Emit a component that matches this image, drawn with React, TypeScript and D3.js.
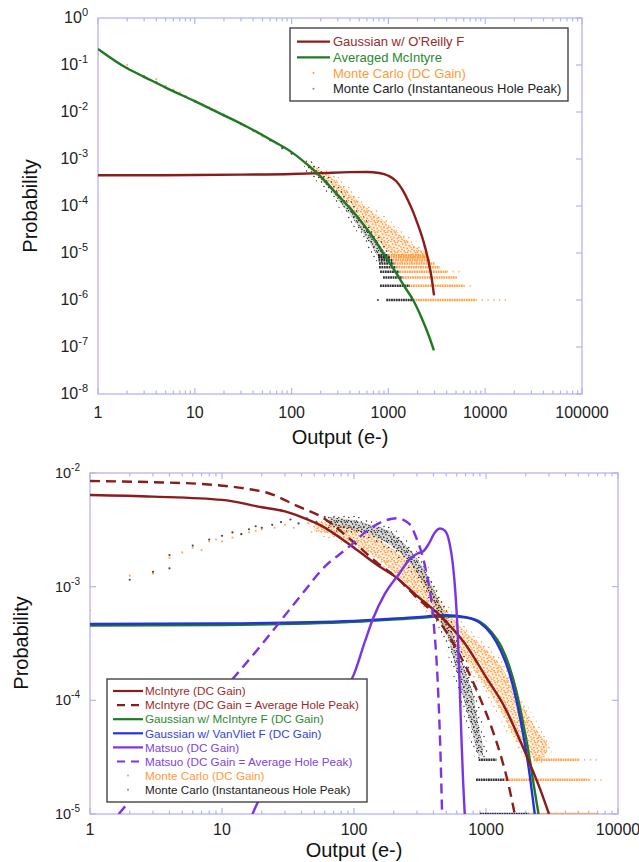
import React from "react";
import * as d3 from "d3";

type Pt = [number, number];
type Env = [number, number, number];
type Band = [number, number, number, number]; // level, x0, x1, dense(1)/sparse(0)

// ---------------- Top panel data ----------------
const topXTickValues = [1, 10, 100, 1000, 10000, 100000];
const topXTickLabels = ["1", "10", "100", "1000", "10000", "100000"];
const topYTickExponents = [0, -1, -2, -3, -4, -5, -6, -7, -8];
const topLegendLabels = [
  "Gaussian w/ O'Reilly F",
  "Averaged McIntyre",
  "Monte Carlo (DC Gain)",
  "Monte Carlo (Instantaneous Hole Peak)",
];

const topGaussianOReilly: Pt[] = [
  [1, 4.5e-4], [3, 4.5e-4], [10, 4.55e-4], [30, 4.65e-4], [100, 4.8e-4], [200, 5.0e-4],
  [400, 5.25e-4], [600, 5.3e-4], [800, 5.05e-4], [1000, 4.4e-4], [1200, 3.4e-4], [1400, 2.2e-4],
  [1600, 1.3e-4], [1800, 7.5e-5], [2000, 4.2e-5], [2200, 2.4e-5], [2400, 1.3e-5], [2600, 6.5e-6],
  [2800, 2.9e-6], [2960, 1.25e-6],
];
const topAveragedMcIntyre: Pt[] = [
  [1, 0.22], [2, 0.085], [3, 0.056], [5, 0.033], [10, 0.017], [20, 0.0085], [35, 0.0048],
  [60, 0.0026], [100, 0.0014], [150, 7.2e-4], [200, 4.2e-4], [300, 1.7e-4], [400, 9e-5],
  [510, 5e-5], [700, 2.1e-5], [880, 1e-5], [1200, 3.8e-6], [1500, 1.8e-6], [1800, 1e-6],
  [2200, 4.2e-7], [2600, 1.8e-7], [2950, 8.5e-8],
];
const topMcDCPoints: Pt[] = [
  [1, 0.17], [2, 0.1], [3, 0.058], [4, 0.05], [5, 0.036], [6, 0.03], [7, 0.026], [8, 0.022],
  [10, 0.0175], [12, 0.0145], [14, 0.0125], [16, 0.011], [20, 0.0089], [25, 0.0069],
  [30, 0.0058], [40, 0.0039], [50, 0.003], [60, 0.0026], [70, 0.0021], [80, 0.0018],
  [100, 0.00135], [120, 0.00105],
];
const topMcHolePoints: Pt[] = [
  [2, 0.086], [3, 0.055], [4, 0.043], [6, 0.028], [8, 0.021], [10, 0.0168], [15, 0.0112],
  [20, 0.0084], [30, 0.0055], [45, 0.0036], [60, 0.0025], [80, 0.0017], [100, 0.0013],
  [780, 1e-6],
];
const topMcDCCloud: Env[] = [
  [150, 6.8e-4, 8.5e-4], [200, 4.2e-4, 5.8e-4], [250, 2.8e-4, 4.3e-4], [300, 1.9e-4, 3.2e-4],
  [400, 1e-4, 1.9e-4], [500, 5.8e-5, 1.25e-4], [650, 3e-5, 8e-5], [880, 1.3e-5, 5e-5],
  [1200, 8.5e-6, 2.9e-5], [1600, 7.5e-6, 1.8e-5], [2000, 7.5e-6, 1.3e-5], [2500, 8e-6, 1e-5],
];
const topMcHoleCloud: Env[] = [
  [150, 6.3e-4, 7.5e-4], [200, 3.7e-4, 4.6e-4], [300, 1.4e-4, 1.9e-4], [400, 6.5e-5, 1e-4],
  [500, 3.5e-5, 5.5e-5], [600, 2e-5, 3.5e-5], [700, 1.2e-5, 2.3e-5], [800, 8e-6, 1.6e-5],
  [900, 7e-6, 1.1e-5], [1000, 7e-6, 8.5e-6],
];
const topMcDCBands: Band[] = [
  [1e-6, 1700, 8000, 1], [1e-6, 8000, 16500, 0], [2e-6, 1600, 6000, 1], [2e-6, 6000, 7400, 0],
  [3e-6, 1400, 5100, 1], [4e-6, 1300, 4000, 1], [4e-6, 4000, 5800, 0], [5e-6, 1200, 3400, 1],
  [6e-6, 1150, 3000, 1], [7e-6, 1100, 2700, 1], [8e-6, 1050, 2500, 1], [9e-6, 1000, 2400, 1],
];
const topMcHoleBands: Band[] = [
  [1e-6, 950, 1750, 1], [2e-6, 820, 1650, 1], [3e-6, 880, 1400, 1], [4e-6, 820, 1300, 1],
  [5e-6, 800, 1200, 1], [6e-6, 800, 1150, 1], [7e-6, 790, 1100, 1], [8e-6, 790, 1050, 1],
  [9e-6, 780, 1000, 1],
];

// ---------------- Bottom panel data ----------------
const botXTickValues = [1, 10, 100, 1000, 10000];
const botXTickLabels = ["1", "10", "100", "1000", "10000"];
const botYTickExponents = [-2, -3, -4, -5];
const botLegendLabels = [
  "McIntyre (DC Gain)",
  "McIntyre (DC Gain = Average Hole Peak)",
  "Gaussian w/ McIntyre F (DC Gain)",
  "Gaussian w/ VanVliet F (DC Gain)",
  "Matsuo (DC Gain)",
  "Matsuo (DC Gain = Average Hole Peak)",
  "Monte Carlo (DC Gain)",
  "Monte Carlo (Instantaneous Hole Peak)",
];

const botMcIntyreDC: Pt[] = [
  [1, 6.4e-3], [3, 6.2e-3], [10, 5.8e-3], [20, 5.0e-3], [30, 4.6e-3], [40, 4.1e-3],
  [55, 3.5e-3], [100, 2.2e-3], [150, 1.55e-3], [210, 1.2e-3], [300, 8.3e-4], [425, 5.9e-4],
  [500, 4.9e-4], [700, 3.1e-4], [1000, 1.6e-4], [1400, 8.5e-5], [1800, 4.5e-5], [2200, 2.6e-5],
  [2600, 1.6e-5], [3000, 1e-5],
];
const botMcIntyreAvgPeak: Pt[] = [
  [1, 8.5e-3], [3, 8.3e-3], [7, 8e-3], [15, 7.3e-3], [22, 6.7e-3], [39, 5.0e-3], [55, 4.2e-3],
  [100, 2.45e-3], [150, 1.62e-3], [210, 1.2e-3], [300, 8e-4], [360, 6.6e-4], [500, 4e-4],
  [700, 2e-4], [900, 1.05e-4], [1100, 5.8e-5], [1300, 3.2e-5], [1500, 1.7e-5], [1650, 1e-5],
];
const botGaussMcIntyreF: Pt[] = [
  [1, 4.55e-4], [10, 4.6e-4], [100, 4.9e-4], [300, 5.3e-4], [500, 5.5e-4], [700, 5.35e-4],
  [900, 4.9e-4], [1100, 4.0e-4], [1300, 3.0e-4], [1500, 2.0e-4], [1700, 1.2e-4], [1900, 6.5e-5],
  [2100, 3.5e-5], [2300, 1.8e-5], [2500, 1e-5],
];
const botGaussVanVlietF: Pt[] = [
  [1, 4.7e-4], [10, 4.75e-4], [100, 5.0e-4], [300, 5.4e-4], [500, 5.6e-4], [700, 5.4e-4],
  [900, 4.8e-4], [1100, 3.8e-4], [1300, 2.7e-4], [1500, 1.75e-4], [1700, 1.0e-4], [1900, 5.2e-5],
  [2100, 2.6e-5], [2340, 1e-5],
];
const botMatsuoDC: Pt[] = [
  [17, 1e-5], [20, 1.5e-5], [30, 3.2e-5], [50, 6.5e-5], [80, 1.1e-4], [100, 1.7e-4],
  [120, 3.2e-4], [140, 5.3e-4], [170, 8.5e-4], [220, 1.3e-3], [265, 1.75e-3], [300, 1.95e-3],
  [335, 2.05e-3], [370, 2.4e-3], [410, 3.0e-3], [450, 3.25e-3], [490, 3.1e-3], [530, 2.4e-3],
  [560, 1.6e-3], [590, 8e-4], [610, 4e-4], [630, 1.5e-4], [650, 5e-5], [670, 2e-5], [690, 1e-5],
];
const botMatsuoAvgPeak: Pt[] = [
  [1.65, 1e-5], [3, 2.3e-5], [5, 4.8e-5], [10, 1.2e-4], [20, 3.1e-4], [40, 8.5e-4], [60, 1.5e-3],
  [90, 2.2e-3], [130, 3.2e-3], [170, 3.8e-3], [210, 4.0e-3], [260, 3.6e-3], [300, 2.6e-3],
  [350, 1.4e-3], [400, 5e-4], [430, 1.5e-4], [450, 4e-5], [465, 1e-5],
];
const botMcDCPoints: Pt[] = [
  [1, 6.2e-4], [2, 1.25e-3], [3, 1.3e-3], [4, 1.8e-3], [5, 2e-3], [6, 2.2e-3], [7, 2.1e-3],
  [8, 2.5e-3], [9, 2.6e-3], [10, 2.5e-3], [12, 2.7e-3], [14, 2.9e-3], [16, 3.0e-3],
  [18, 3.1e-3], [20, 3.2e-3], [25, 3.3e-3], [30, 3.5e-3], [35, 3.3e-3], [45, 3.6e-3],
];
const botMcHolePoints: Pt[] = [
  [2, 1.15e-3], [3, 1.35e-3], [4, 1.45e-3], [4, 1.9e-3], [6, 2.3e-3], [8, 2.6e-3], [10, 2.8e-3],
  [12, 3.0e-3], [14, 2.9e-3], [16, 3.2e-3], [18, 3.4e-3], [20, 3.3e-3], [24, 3.5e-3],
  [28, 3.7e-3], [33, 3.9e-3], [38, 3.6e-3], [44, 4.0e-3], [52, 3.7e-3], [60, 4.1e-3],
];
const botMcDCCloud: Env[] = [
  [50, 3.1e-3, 3.7e-3], [80, 2.7e-3, 3.5e-3], [130, 2.0e-3, 2.9e-3],
  [200, 1.35e-3, 2.1e-3], [300, 8.5e-4, 1.4e-3], [400, 5.6e-4, 9e-4], [500, 4e-4, 6.2e-4],
  [700, 2.3e-4, 4e-4], [1000, 1.3e-4, 2.8e-4], [1300, 8e-5, 2e-4], [1600, 5e-5, 1.3e-4],
  [2000, 3.5e-5, 8e-5], [2500, 3e-5, 5.2e-5], [2900, 3.5e-5, 4.2e-5],
];
const botMcHoleCloud: Env[] = [
  [65, 3.4e-3, 4.1e-3], [125, 2.9e-3, 3.6e-3], [200, 2.2e-3, 2.9e-3],
  [265, 1.6e-3, 2.1e-3], [350, 1e-3, 1.35e-3], [450, 5.2e-4, 7e-4], [520, 3.4e-4, 4.8e-4],
  [600, 1.8e-4, 3e-4], [700, 9e-5, 1.8e-4], [800, 5e-5, 1.1e-4], [880, 3.3e-5, 6e-5],
  [950, 3.2e-5, 3.8e-5],
];
const botMcDCBands: Band[] = [
  [1e-5, 2100, 7000, 1], [1e-5, 7000, 9300, 0], [2e-5, 1370, 6000, 1], [2e-5, 6000, 8100, 0],
  [3e-5, 2300, 5000, 1], [3e-5, 5000, 7300, 0],
];
const botMcHoleBands: Band[] = [
  [1e-5, 900, 2100, 1], [2e-5, 840, 1370, 1], [3e-5, 880, 1200, 1],
];

// ---------------- styling ----------------
const FONT = "'Liberation Sans', Arial, Helvetica, sans-serif";
const AXIS = "#b4b4f4";
const DARKRED = "#8b1c1c";
const GREEN = "#1e7a22";
const BLUE = "#2233dd";
const PURPLE = "#7a33e6";
const ORANGE = "#ff9a3a";
const BLACK = "#1a1a1a";

type Scale = d3.ScaleLogarithmic<number, number>;

function isMajor(v: number) {
  const l = Math.log10(v);
  return Math.abs(l - Math.round(l)) < 1e-9;
}

function Frame({ x, y, leftTicks, labelDy, yFont, supFont, xTicks, xLabels, yExps }: {
  x: Scale; y: Scale; leftTicks: boolean; labelDy: number; yFont: number; supFont: number;
  xTicks: number[]; xLabels: string[]; yExps: number[];
}) {
  const [x0, x1] = x.range();
  const [yb, yt] = y.range();
  const xt = x.ticks();
  const yMaj = yExps.map((e) => Math.pow(10, e));
  return (
    <g>
      <rect x={x0} y={yt} width={x1 - x0} height={yb - yt} fill="none" stroke={AXIS} strokeWidth={1.3} />
      {xt.map((v, i) => {
        const len = isMajor(v) ? 6 : 3.5;
        return (
          <g key={"xt" + i}>
            <line x1={x(v)} x2={x(v)} y1={yb} y2={yb - len} stroke={AXIS} strokeWidth={1.2} />
            <line x1={x(v)} x2={x(v)} y1={yt} y2={yt + len} stroke={AXIS} strokeWidth={1.2} />
          </g>
        );
      })}
      {yMaj.map((v, i) => (
        <g key={"yt" + i}>
          <line x1={x1} x2={x1 - 6} y1={y(v)} y2={y(v)} stroke={AXIS} strokeWidth={1.2} />
          {leftTicks && <line x1={x0} x2={x0 + 6} y1={y(v)} y2={y(v)} stroke={AXIS} strokeWidth={1.2} />}
        </g>
      ))}
      {xTicks.map((v, i) => (
        <text key={"xl" + i} x={x(v)} y={yb + labelDy} textAnchor="middle" fontFamily={FONT} fontSize={16} fill="#222">
          {xLabels[i]}
        </text>
      ))}
      {yExps.map((e, i) => (
        <text key={"yl" + i} x={x0 - 10} y={y(Math.pow(10, e)) + 5} textAnchor="end" fontFamily={FONT} fontSize={yFont} fill="#222">
          10<tspan dy={-7} fontSize={supFont}>{String(e)}</tspan>
        </text>
      ))}
    </g>
  );
}

function Curve({ data, x, y, color, dash, width = 2.4 }: { data: Pt[]; x: Scale; y: Scale; color: string; dash?: string; width?: number }) {
  const line = d3.line<Pt>().x((d) => x(d[0])).y((d) => y(d[1])).curve(d3.curveMonotoneX);
  return <path d={line(data) || ""} fill="none" stroke={color} strokeWidth={width} strokeDasharray={dash} strokeLinejoin="round" />;
}

function Cloud({ data, x, y, color, pattern, halo }: { data: Env[]; x: Scale; y: Scale; color: string; pattern: string; halo: string }) {
  const area = d3.area<Env>().x((d) => x(d[0])).y0((d) => y(d[1])).y1((d) => y(d[2])).curve(d3.curveMonotoneX);
  const d = area(data) || "";
  return (
    <g>
      <path d={d} fill="none" stroke={`url(#${halo})`} strokeWidth={9} strokeLinejoin="round" />
      <path d={d} fill={color} fillOpacity={0.16} />
      <path d={d} fill={`url(#${pattern})`} />
    </g>
  );
}

function Bands({ data, x, y, color }: { data: Band[]; x: Scale; y: Scale; color: string }) {
  return (
    <g>
      {data.map((b, i) => (
        <line key={i} x1={x(b[1])} x2={x(b[2])} y1={y(b[0])} y2={y(b[0])} stroke={color}
          strokeWidth={b[3] ? 2.5 : 1.8} strokeDasharray={b[3] ? "1.8 0.6" : "1.3 4.5"} strokeOpacity={b[3] ? 0.9 : 0.7} />
      ))}
    </g>
  );
}

function Dots({ data, x, y, color }: { data: Pt[]; x: Scale; y: Scale; color: string }) {
  return (
    <g>
      {data.map((p, i) => (
        <circle key={i} cx={x(p[0])} cy={y(p[1])} r={1.1} fill={color} fillOpacity={0.8} />
      ))}
    </g>
  );
}

type LegendItem = { label: string; color: string; kind: "line" | "dash" | "dot"; text: string };

function Legend({ x, y, w, h, rowY0, rowStep, lineX0, lineX1, textX, fontSize, items }: {
  x: number; y: number; w: number; h: number; rowY0: number; rowStep: number; lineX0: number; lineX1: number;
  textX: number; fontSize: number; items: LegendItem[];
}) {
  return (
    <g>
      <rect x={x} y={y} width={w} height={h} fill="#fff" stroke="#444" strokeWidth={1.4} />
      {items.map((it, i) => {
        const ry = rowY0 + i * rowStep;
        return (
          <g key={i}>
            {it.kind === "line" && <line x1={lineX0} x2={lineX1} y1={ry} y2={ry} stroke={it.color} strokeWidth={2.2} />}
            {it.kind === "dash" && <line x1={lineX0 + 4} x2={lineX1} y1={ry} y2={ry} stroke={it.color} strokeWidth={2.2} strokeDasharray="8 6" />}
            {it.kind === "dot" && <circle cx={(lineX0 + lineX1) / 2} cy={ry} r={1} fill={it.color} />}
            <text x={textX} y={ry + fontSize * 0.36} fontFamily={FONT} fontSize={fontSize} fill={it.text}>{it.label}</text>
          </g>
        );
      })}
    </g>
  );
}

// irregular dot arrangement inside a 10x10 pattern tile
const cloudTileDots: Pt[] = [
  [1, 1.5], [4.2, 0.8], [7.5, 2.2], [2.6, 4.1], [6, 4.8], [9, 5.6], [0.8, 7], [3.8, 7.6],
  [7.2, 8.4], [5.2, 2.6], [8.6, 0.4], [1.9, 9.3],
];
const haloTileDots: Pt[] = [[1.5, 2], [6.5, 1], [4, 6.5], [8.8, 7.5]];

function Patterns() {
  const mk = (id: string, color: string, dots: Pt[], r: number) => (
    <pattern id={id} width="10" height="10" patternUnits="userSpaceOnUse">
      {dots.map((p, i) => <circle key={i} cx={p[0]} cy={p[1]} r={r} fill={color} />)}
    </pattern>
  );
  return (
    <defs>
      {mk("dotsOrange", ORANGE, cloudTileDots, 0.85)}
      {mk("dotsBlack", BLACK, cloudTileDots, 0.75)}
      {mk("haloOrange", ORANGE, haloTileDots, 0.8)}
      {mk("haloBlack", BLACK, haloTileDots, 0.7)}
      <clipPath id="clipTop"><rect x={98} y={18} width={484} height={376} /></clipPath>
      <clipPath id="clipBot"><rect x={90} y={473} width={528} height={341} /></clipPath>
    </defs>
  );
}

export default function App() {
  const xT = d3.scaleLog().domain([1, 1e5]).range([98, 582]);
  const yT = d3.scaleLog().domain([1e-8, 1]).range([394, 18]);
  const xB = d3.scaleLog().domain([1, 1e4]).range([90, 618]);
  const yB = d3.scaleLog().domain([1e-5, 1e-2]).range([814, 473]);

  const topItems: LegendItem[] = [
    { label: topLegendLabels[0], color: DARKRED, kind: "line", text: "#9a2a2a" },
    { label: topLegendLabels[1], color: GREEN, kind: "line", text: "#2a8a2e" },
    { label: topLegendLabels[2], color: ORANGE, kind: "dot", text: ORANGE },
    { label: topLegendLabels[3], color: "#888", kind: "dot", text: "#222" },
  ];
  const botItems: LegendItem[] = [
    { label: botLegendLabels[0], color: DARKRED, kind: "line", text: "#9a2a2a" },
    { label: botLegendLabels[1], color: DARKRED, kind: "dash", text: "#9a2a2a" },
    { label: botLegendLabels[2], color: GREEN, kind: "line", text: "#2a8a2e" },
    { label: botLegendLabels[3], color: BLUE, kind: "line", text: "#3344dd" },
    { label: botLegendLabels[4], color: PURPLE, kind: "line", text: "#8044e0" },
    { label: botLegendLabels[5], color: PURPLE, kind: "dash", text: "#8044e0" },
    { label: botLegendLabels[6], color: ORANGE, kind: "dot", text: ORANGE },
    { label: botLegendLabels[7], color: "#888", kind: "dot", text: "#222" },
  ];

  return (
    <svg width={639} height={862} style={{ position: "absolute", left: 0, top: 0, background: "#fff" }}>
      <Patterns />
      <rect x={0} y={0} width={639} height={862} fill="#fff" />

      {/* ---------- Top panel ---------- */}
      <Frame x={xT} y={yT} leftTicks={false} labelDy={24} yFont={16} supFont={11}
        xTicks={topXTickValues} xLabels={topXTickLabels} yExps={topYTickExponents} />
      <g clipPath="url(#clipTop)">
        <Cloud data={topMcDCCloud} x={xT} y={yT} color={ORANGE} pattern="dotsOrange" halo="haloOrange" />
        <Bands data={topMcDCBands} x={xT} y={yT} color={ORANGE} />
        <Dots data={topMcDCPoints} x={xT} y={yT} color={ORANGE} />
        <Cloud data={topMcHoleCloud} x={xT} y={yT} color={BLACK} pattern="dotsBlack" halo="haloBlack" />
        <Bands data={topMcHoleBands} x={xT} y={yT} color={BLACK} />
        <Dots data={topMcHolePoints} x={xT} y={yT} color={BLACK} />
        <Curve data={topGaussianOReilly} x={xT} y={yT} color={DARKRED} />
        <Curve data={topAveragedMcIntyre} x={xT} y={yT} color={GREEN} />
      </g>
      <Legend x={290} y={28} w={278} h={73} rowY0={41.7} rowStep={15.7} lineX0={297} lineX1={330} textX={333}
        fontSize={13} items={topItems} />
      <text x={340} y={444} textAnchor="middle" fontFamily={FONT} fontSize={20} fill="#111">Output (e-)</text>
      <text transform="translate(37,206) rotate(-90)" textAnchor="middle" fontFamily={FONT} fontSize={20} fill="#111">Probability</text>

      {/* ---------- Bottom panel ---------- */}
      <Frame x={xB} y={yB} leftTicks={true} labelDy={21} yFont={14.5} supFont={10}
        xTicks={botXTickValues} xLabels={botXTickLabels} yExps={botYTickExponents} />
      <g clipPath="url(#clipBot)">
        <Cloud data={botMcDCCloud} x={xB} y={yB} color={ORANGE} pattern="dotsOrange" halo="haloOrange" />
        <Bands data={botMcDCBands} x={xB} y={yB} color={ORANGE} />
        <Dots data={botMcDCPoints} x={xB} y={yB} color={ORANGE} />
        <Cloud data={botMcHoleCloud} x={xB} y={yB} color={BLACK} pattern="dotsBlack" halo="haloBlack" />
        <Bands data={botMcHoleBands} x={xB} y={yB} color={BLACK} />
        <Dots data={botMcHolePoints} x={xB} y={yB} color={BLACK} />
        <Curve data={botGaussMcIntyreF} x={xB} y={yB} color={GREEN} />
        <Curve data={botGaussVanVlietF} x={xB} y={yB} color={BLUE} />
        <Curve data={botMcIntyreDC} x={xB} y={yB} color={DARKRED} />
        <Curve data={botMcIntyreAvgPeak} x={xB} y={yB} color={DARKRED} dash="10 6" />
        <Curve data={botMatsuoDC} x={xB} y={yB} color={PURPLE} />
        <Curve data={botMatsuoAvgPeak} x={xB} y={yB} color={PURPLE} dash="10 6" />
      </g>
      <Legend x={107} y={679} w={260} h={123} rowY0={691} rowStep={14.1} lineX0={113} lineX1={143} textX={145}
        fontSize={11.7} items={botItems} />
      <text x={354} y={857} textAnchor="middle" fontFamily={FONT} fontSize={20} fill="#111">Output (e-)</text>
      <text transform="translate(28,643) rotate(-90)" textAnchor="middle" fontFamily={FONT} fontSize={20} fill="#111">Probability</text>
    </svg>
  );
}
